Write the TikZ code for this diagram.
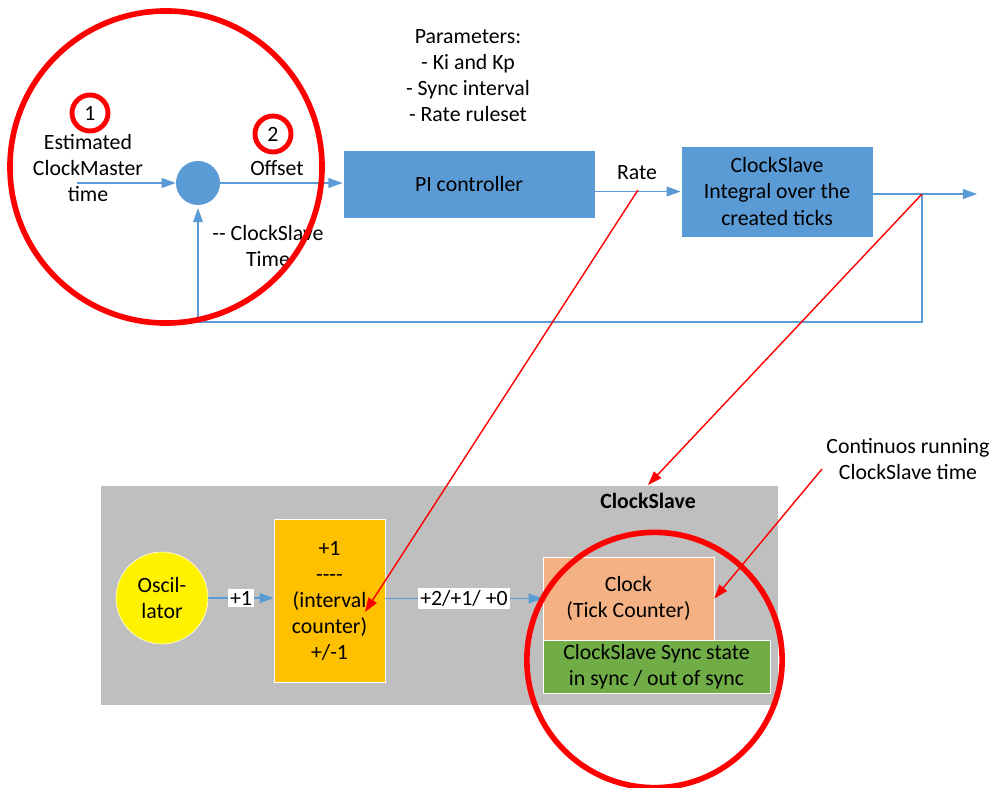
\documentclass[tikz,border=0pt]{standalone}
\usepackage{fontspec}
\setmainfont{Carlito}
\definecolor{CSblue}{HTML}{5B9BD5}
\definecolor{CSgray}{HTML}{BFBFBF}
\definecolor{CSorange}{HTML}{FFC000}
\definecolor{CSpeach}{HTML}{F4B183}
\definecolor{CSgreen}{HTML}{70AD47}
\usetikzlibrary{arrows.meta, positioning}

\begin{document}
\begin{tikzpicture}[
      x=0.025cm, y=-0.025cm,
      every node/.style={align=center, inner sep=0pt, font=\fontsize{15.5}{18.5}\selectfont},
      blk/.style={rectangle, draw=white, line width=0.6pt, fill=CSblue},
      lbl/.style={fill=white, text=black, inner sep=1.5pt},
      arr/.style={-{Triangle[length=10pt, width=7pt]}, line width=0.8pt, CSblue},
      redarr/.style={-{Triangle[length=10pt, width=7pt]}, line width=1pt, red},
      ring/.style={draw=red, line width=4pt}
   ]
      \useasboundingbox (0,0) rectangle (999,788);

      % control loop
      \node (sum) [circle, fill=CSblue, minimum size=1.1cm] at (198,183) {};
      \coordinate (cmin) at (77,183);
      \node (cmtxt) at (88,168) {Estimated\\ClockMaster\\time};
      \node (pi) [blk, minimum width=6.3cm, minimum height=1.7cm] at (469,184.5) {PI controller};
      \node (params) at (468,76) {Parameters:\\- Ki and Kp\\- Sync interval\\- Rate ruleset};
      \node (integ) [blk, minimum width=4.8cm, minimum height=2.275cm] at (777,191.5) {ClockSlave\\Integral over the\\created ticks};
      \coordinate (branch) at (922,194);
      \coordinate (out) at (977,194);
      \coordinate (fbk) at (922,322);
      \node (offtxt) at (277,168) {Offset};
      \node (ratetxt) at (637,173) {Rate};
      \node (fbtxt) at (268,246) {-{}- ClockSlave\\Time};
      \draw[arr] (cmin) -- (sum);
      \draw[arr] (sum) -- (sum -| pi.west);
      \draw[arr] (pi.east |- integ) -- (integ);
      \draw[arr] (integ.east |- branch) -- (out);
      \draw[arr, shorten >=2pt] (branch) -- (fbk) -| (sum);

      % ClockSlave internals
      \node (slave) [fill=CSgray, minimum width=16.925cm, minimum height=5.475cm] at (439.5,595.5) {};
      \node (slavettl) at (648,501) {\textbf{ClockSlave}};
      \node (osc) [circle, fill=yellow, draw=white, minimum size=2.3cm] at (162,598) {Oscil-\\lator};
      \node (cnt) [rectangle, fill=CSorange, draw=white, minimum width=2.775cm, minimum height=4.075cm] at (329.5,600.5) {+1\\-{}-{}-{}-\\(interval\\counter)\\+/-1};
      \node (clk) [fill=CSpeach, draw=white, minimum width=4.275cm, minimum height=2.075cm] at (628.5,598.5) {Clock\\(Tick Counter)};
      \node (sync) [fill=CSgreen, draw=white, minimum width=5.675cm, minimum height=1.325cm, below right=0pt and 0pt of clk.south west] {ClockSlave Sync state\\in sync / out of sync};
      \draw[arr] (osc.east) -- (osc.east -| cnt.west) node[lbl, midway] {+1};
      \draw[arr] (cnt.east |- clk.west) -- (clk.west) node[lbl, midway] {+2/+1/ +0};

      % highlights
      \draw[ring] (166,167) circle [radius=3.9cm];
      \node (n1) [circle, ring, line width=3.5pt, minimum size=0.9cm] at (90,113) {1};
      \node (n2) [circle, ring, line width=3.5pt, minimum size=0.9cm] at (273,134) {2};
      \draw[ring] (654.5,660) circle [radius=3.19cm];
      \node (conttxt) at (908,459) {Continuos running\\ClockSlave time};
      \coordinate (ratept) at (638,190);
      \coordinate (cntpt) at (365,612);
      \coordinate (slavetop) at (648,485);
      \coordinate (contpt) at (822,469);
      \draw[redarr] (ratept) -- (cntpt);
      \draw[redarr] (branch) -- (slavetop);
      \draw[redarr] (contpt) -- (clk.east);
   \end{tikzpicture}
\end{document}
